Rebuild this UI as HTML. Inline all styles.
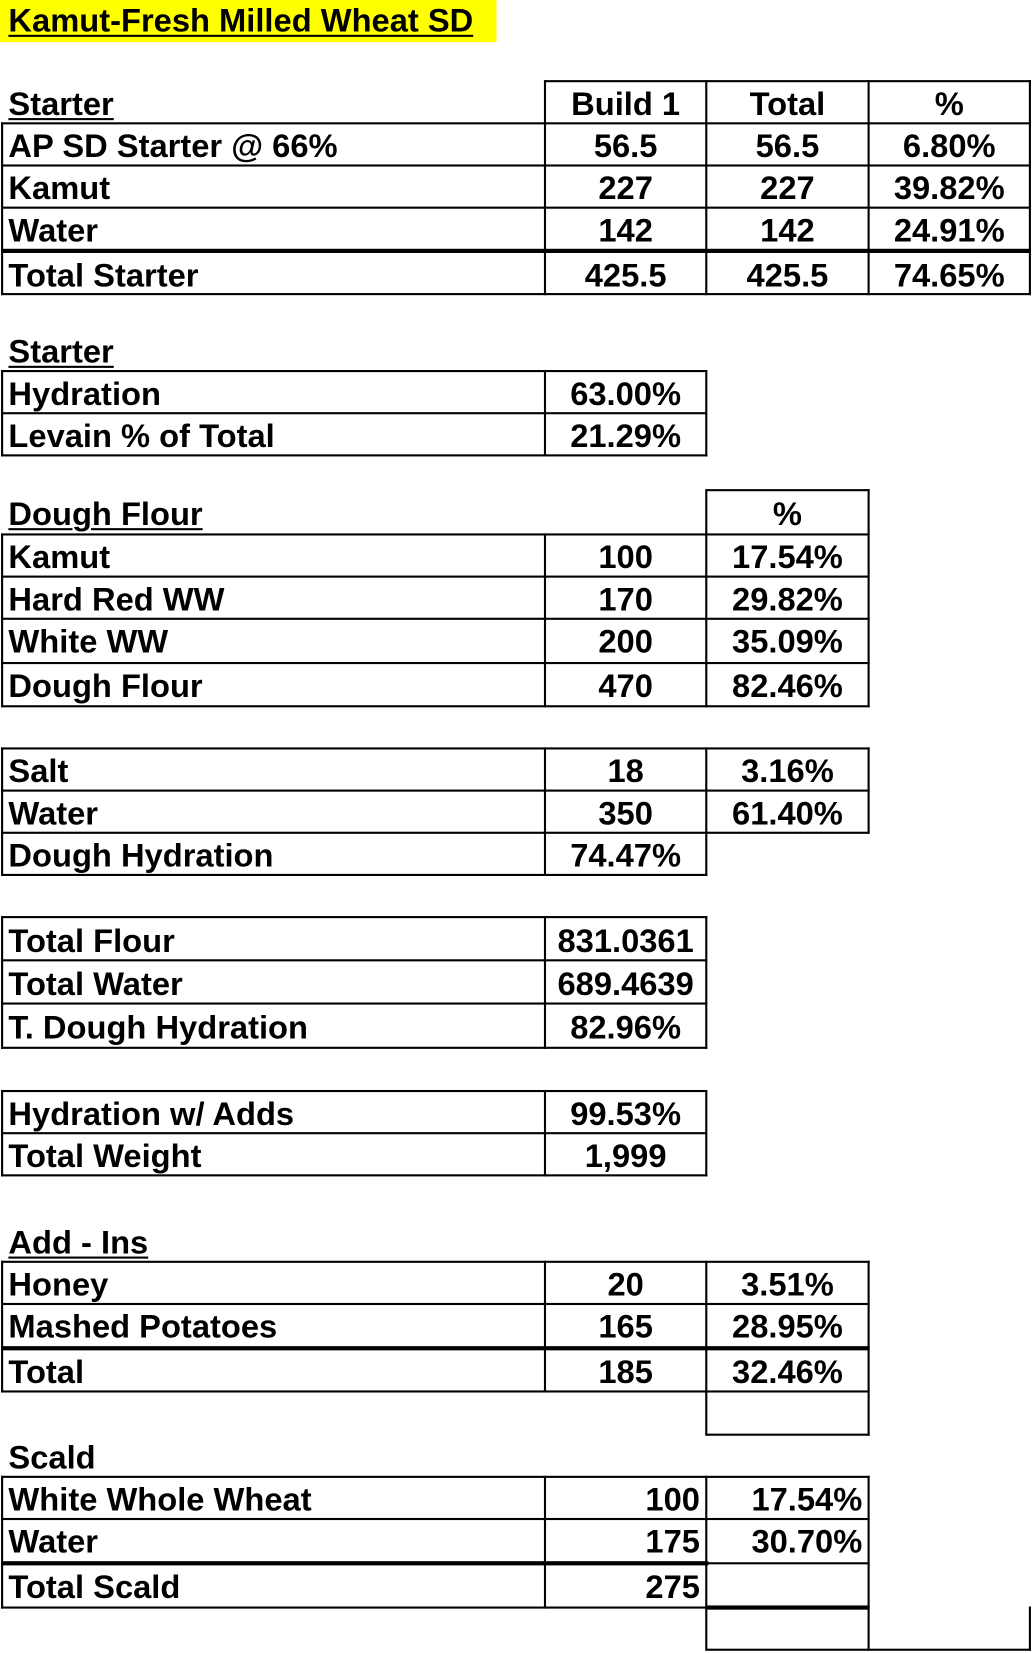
<!DOCTYPE html>
<html><head><meta charset="utf-8"><style>
html,body{margin:0;padding:0;background:#fff;}
body{width:1032px;height:1653px;overflow:hidden;position:relative;}
#w{position:absolute;left:0;top:0;width:979px;height:1568px;transform:scale(1.05414);transform-origin:0 0;}
.h{position:absolute;height:2px;background:#000;}
.hk{position:absolute;height:4px;background:#000;}
.v{position:absolute;width:2px;background:#000;}
.t{position:absolute;font-family:"Liberation Sans",Arial,sans-serif;font-weight:bold;font-size:31px;white-space:nowrap;color:#000;padding-top:2px;}
.c{text-align:center;}
.r{text-align:right;}
.u{text-decoration:underline;text-decoration-thickness:2px;text-underline-offset:3px;}
</style></head><body><div id="w">
<div style="position:absolute;left:0;top:0;width:471px;height:40px;background:#ffff00"></div>
<div class="t u" style="left:8px;top:-2px;line-height:40px;">Kamut-Fresh Milled Wheat SD</div>

<div class="h" style="left:517px;top:76px;width:461px"></div>
<div class="h" style="left:1px;top:116px;width:977px"></div>
<div class="h" style="left:1px;top:156px;width:977px"></div>
<div class="h" style="left:1px;top:196px;width:977px"></div>
<div class="hk" style="left:1px;top:236px;width:977px"></div>
<div class="h" style="left:1px;top:278px;width:977px"></div>
<div class="v" style="left:516px;top:76px;height:204px"></div>
<div class="v" style="left:669px;top:76px;height:204px"></div>
<div class="v" style="left:823px;top:76px;height:204px"></div>
<div class="v" style="left:976px;top:76px;height:204px"></div>
<div class="v" style="left:1px;top:116px;height:164px"></div>
<div class="t u" style="left:8px;top:77px;line-height:40px">Starter</div>
<div class="t c" style="left:517px;width:153px;top:77px;line-height:40px">Build 1</div>
<div class="t c" style="left:670px;width:154px;top:77px;line-height:40px">Total</div>
<div class="t c" style="left:824px;width:153px;top:77px;line-height:40px">%</div>
<div class="t" style="left:8px;top:117px;line-height:40px">AP SD Starter @ 66%</div>
<div class="t c" style="left:517px;width:153px;top:117px;line-height:40px">56.5</div>
<div class="t c" style="left:670px;width:154px;top:117px;line-height:40px">56.5</div>
<div class="t c" style="left:824px;width:153px;top:117px;line-height:40px">6.80%</div>
<div class="t" style="left:8px;top:157px;line-height:40px">Kamut</div>
<div class="t c" style="left:517px;width:153px;top:157px;line-height:40px">227</div>
<div class="t c" style="left:670px;width:154px;top:157px;line-height:40px">227</div>
<div class="t c" style="left:824px;width:153px;top:157px;line-height:40px">39.82%</div>
<div class="t" style="left:8px;top:197px;line-height:40px">Water</div>
<div class="t c" style="left:517px;width:153px;top:197px;line-height:40px">142</div>
<div class="t c" style="left:670px;width:154px;top:197px;line-height:40px">142</div>
<div class="t c" style="left:824px;width:153px;top:197px;line-height:40px">24.91%</div>
<div class="t" style="left:8px;top:240px;line-height:40px">Total Starter</div>
<div class="t c" style="left:517px;width:153px;top:240px;line-height:40px">425.5</div>
<div class="t c" style="left:670px;width:154px;top:240px;line-height:40px">425.5</div>
<div class="t c" style="left:824px;width:153px;top:240px;line-height:40px">74.65%</div>

<div class="t u" style="left:8px;top:312px;line-height:40px">Starter</div>
<div class="h" style="left:1px;top:351px;width:670px"></div>
<div class="h" style="left:1px;top:391px;width:670px"></div>
<div class="h" style="left:1px;top:431px;width:670px"></div>
<div class="v" style="left:1px;top:351px;height:82px"></div>
<div class="v" style="left:516px;top:351px;height:82px"></div>
<div class="v" style="left:669px;top:351px;height:82px"></div>
<div class="t" style="left:8px;top:352px;line-height:40px">Hydration</div>
<div class="t c" style="left:517px;width:153px;top:352px;line-height:40px">63.00%</div>
<div class="t" style="left:8px;top:392px;line-height:40px">Levain % of Total</div>
<div class="t c" style="left:517px;width:153px;top:392px;line-height:40px">21.29%</div>

<div class="h" style="left:670px;top:464px;width:155px"></div>
<div class="h" style="left:1px;top:506px;width:824px"></div>
<div class="h" style="left:1px;top:546px;width:824px"></div>
<div class="h" style="left:1px;top:586px;width:824px"></div>
<div class="h" style="left:1px;top:628px;width:824px"></div>
<div class="h" style="left:1px;top:669px;width:824px"></div>
<div class="v" style="left:669px;top:464px;height:207px"></div>
<div class="v" style="left:823px;top:464px;height:207px"></div>
<div class="v" style="left:1px;top:506px;height:165px"></div>
<div class="v" style="left:516px;top:506px;height:165px"></div>
<div class="t u" style="left:8px;top:465px;line-height:42px">Dough Flour</div>
<div class="t c" style="left:670px;width:154px;top:465px;line-height:42px">%</div>
<div class="t" style="left:8px;top:507px;line-height:40px">Kamut</div>
<div class="t c" style="left:517px;width:153px;top:507px;line-height:40px">100</div>
<div class="t c" style="left:670px;width:154px;top:507px;line-height:40px">17.54%</div>
<div class="t" style="left:8px;top:547px;line-height:40px">Hard Red WW</div>
<div class="t c" style="left:517px;width:153px;top:547px;line-height:40px">170</div>
<div class="t c" style="left:670px;width:154px;top:547px;line-height:40px">29.82%</div>
<div class="t" style="left:8px;top:587px;line-height:40px">White WW</div>
<div class="t c" style="left:517px;width:153px;top:587px;line-height:40px">200</div>
<div class="t c" style="left:670px;width:154px;top:587px;line-height:40px">35.09%</div>
<div class="t" style="left:8px;top:629px;line-height:40px">Dough Flour</div>
<div class="t c" style="left:517px;width:153px;top:629px;line-height:40px">470</div>
<div class="t c" style="left:670px;width:154px;top:629px;line-height:40px">82.46%</div>

<div class="h" style="left:1px;top:709px;width:824px"></div>
<div class="h" style="left:1px;top:749px;width:824px"></div>
<div class="h" style="left:1px;top:789px;width:824px"></div>
<div class="h" style="left:1px;top:829px;width:670px"></div>
<div class="v" style="left:1px;top:709px;height:122px"></div>
<div class="v" style="left:516px;top:709px;height:122px"></div>
<div class="v" style="left:669px;top:709px;height:122px"></div>
<div class="v" style="left:823px;top:709px;height:82px"></div>
<div class="t" style="left:8px;top:710px;line-height:40px">Salt</div>
<div class="t c" style="left:517px;width:153px;top:710px;line-height:40px">18</div>
<div class="t c" style="left:670px;width:154px;top:710px;line-height:40px">3.16%</div>
<div class="t" style="left:8px;top:750px;line-height:40px">Water</div>
<div class="t c" style="left:517px;width:153px;top:750px;line-height:40px">350</div>
<div class="t c" style="left:670px;width:154px;top:750px;line-height:40px">61.40%</div>
<div class="t" style="left:8px;top:790px;line-height:40px">Dough Hydration</div>
<div class="t c" style="left:517px;width:153px;top:790px;line-height:40px">74.47%</div>

<div class="h" style="left:1px;top:869px;width:670px"></div>
<div class="h" style="left:1px;top:910px;width:670px"></div>
<div class="h" style="left:1px;top:951px;width:670px"></div>
<div class="h" style="left:1px;top:993px;width:670px"></div>
<div class="v" style="left:1px;top:869px;height:126px"></div>
<div class="v" style="left:516px;top:869px;height:126px"></div>
<div class="v" style="left:669px;top:869px;height:126px"></div>
<div class="t" style="left:8px;top:870px;line-height:41px">Total Flour</div>
<div class="t c" style="left:517px;width:153px;top:870px;line-height:41px">831.0361</div>
<div class="t" style="left:8px;top:911px;line-height:41px">Total Water</div>
<div class="t c" style="left:517px;width:153px;top:911px;line-height:41px">689.4639</div>
<div class="t" style="left:8px;top:952px;line-height:41px">T. Dough Hydration</div>
<div class="t c" style="left:517px;width:153px;top:952px;line-height:41px">82.96%</div>

<div class="h" style="left:1px;top:1034px;width:670px"></div>
<div class="h" style="left:1px;top:1074px;width:670px"></div>
<div class="h" style="left:1px;top:1114px;width:670px"></div>
<div class="v" style="left:1px;top:1034px;height:82px"></div>
<div class="v" style="left:516px;top:1034px;height:82px"></div>
<div class="v" style="left:669px;top:1034px;height:82px"></div>
<div class="t" style="left:8px;top:1035px;line-height:40px">Hydration w/ Adds</div>
<div class="t c" style="left:517px;width:153px;top:1035px;line-height:40px">99.53%</div>
<div class="t" style="left:8px;top:1075px;line-height:40px">Total Weight</div>
<div class="t c" style="left:517px;width:153px;top:1075px;line-height:40px">1,999</div>

<div class="t u" style="left:8px;top:1157px;line-height:40px">Add - Ins</div>
<div class="h" style="left:1px;top:1196px;width:824px"></div>
<div class="h" style="left:1px;top:1236px;width:824px"></div>
<div class="hk" style="left:1px;top:1277px;width:824px"></div>
<div class="h" style="left:1px;top:1319px;width:824px"></div>
<div class="h" style="left:670px;top:1360px;width:155px"></div>
<div class="v" style="left:1px;top:1196px;height:125px"></div>
<div class="v" style="left:516px;top:1196px;height:125px"></div>
<div class="v" style="left:669px;top:1196px;height:166px"></div>
<div class="v" style="left:823px;top:1196px;height:166px"></div>
<div class="t" style="left:8px;top:1197px;line-height:40px">Honey</div>
<div class="t c" style="left:517px;width:153px;top:1197px;line-height:40px">20</div>
<div class="t c" style="left:670px;width:154px;top:1197px;line-height:40px">3.51%</div>
<div class="t" style="left:8px;top:1237px;line-height:40px">Mashed Potatoes</div>
<div class="t c" style="left:517px;width:153px;top:1237px;line-height:40px">165</div>
<div class="t c" style="left:670px;width:154px;top:1237px;line-height:40px">28.95%</div>
<div class="t" style="left:8px;top:1280px;line-height:40px">Total</div>
<div class="t c" style="left:517px;width:153px;top:1280px;line-height:40px">185</div>
<div class="t c" style="left:670px;width:154px;top:1280px;line-height:40px">32.46%</div>

<div class="t" style="left:8px;top:1361px;line-height:40px">Scald</div>
<div class="h" style="left:1px;top:1400px;width:824px"></div>
<div class="h" style="left:1px;top:1440px;width:824px"></div>
<div class="hk" style="left:1px;top:1481px;width:671px"></div>
<div class="h" style="left:670px;top:1482px;width:155px"></div>
<div class="h" style="left:1px;top:1524px;width:670px"></div>
<div class="hk" style="left:670px;top:1523px;width:155px"></div>
<div class="h" style="left:670px;top:1564px;width:308px"></div>
<div class="v" style="left:1px;top:1400px;height:126px"></div>
<div class="v" style="left:516px;top:1400px;height:126px"></div>
<div class="v" style="left:669px;top:1400px;height:166px"></div>
<div class="v" style="left:823px;top:1400px;height:166px"></div>
<div class="v" style="left:976px;top:1524px;height:42px"></div>
<div class="t" style="left:8px;top:1401px;line-height:40px">White Whole Wheat</div>
<div class="t r" style="left:517px;width:147px;top:1401px;line-height:40px">100</div>
<div class="t r" style="left:670px;width:148px;top:1401px;line-height:40px">17.54%</div>
<div class="t" style="left:8px;top:1441px;line-height:40px">Water</div>
<div class="t r" style="left:517px;width:147px;top:1441px;line-height:40px">175</div>
<div class="t r" style="left:670px;width:148px;top:1441px;line-height:40px">30.70%</div>
<div class="t" style="left:8px;top:1484px;line-height:40px">Total Scald</div>
<div class="t r" style="left:517px;width:147px;top:1484px;line-height:40px">275</div>
</div></body></html>
